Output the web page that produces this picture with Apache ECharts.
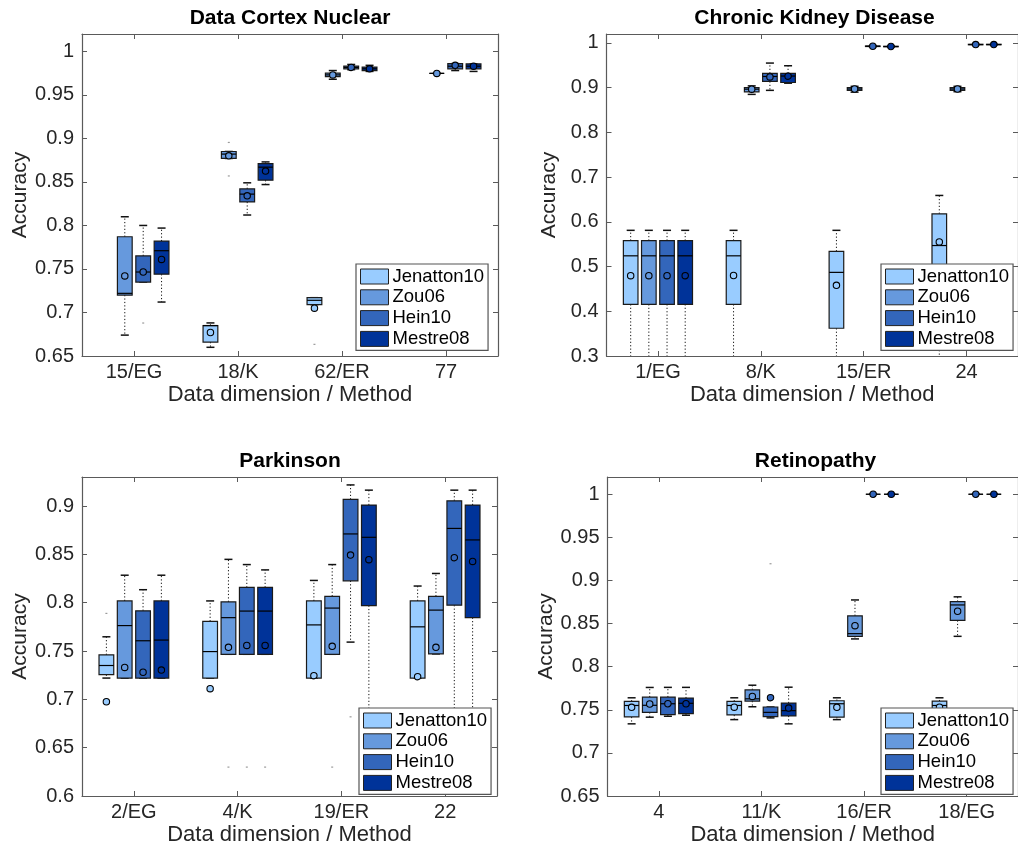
<!DOCTYPE html>
<html>
<head>
<meta charset="utf-8">
<script src="https://cdn.jsdelivr.net/npm/echarts@6/dist/echarts.min.js"></script>
<style>
html,body{margin:0;padding:0;background:#fff;}
#chart{width:1018px;height:847px;}
</style>
</head>
<body>
<div id="chart"></div>
<script>
// ---------- DATA ----------
// each box: [whiskerLow, q1, median, q3, whiskerHigh, mean]; null = no box
const methods = ['Jenatton10', 'Zou06', 'Hein10', 'Mestre08'];
const methodColors = ['#99ccff', '#6699dd', '#3366bb', '#003399'];

const cortexCats = ['15/EG', '18/K', '62/ER', '77'];
const cortexJenatton10 = [null, [0.660, 0.666, 0.685, 0.685, 0.688, 0.677], [0.709, 0.709, 0.714, 0.717, 0.717, 0.705], null];
const cortexZou06 = [[0.674, 0.720, 0.722, 0.787, 0.810, 0.742], [0.877, 0.877, 0.882, 0.885, 0.885, 0.880], [0.968, 0.971, 0.973, 0.975, 0.978, 0.973], [0.9747, 0.9747, 0.9747, 0.9747, 0.9747, 0.9747]];
const cortexHein10 = [[0.735, 0.735, 0.7465, 0.765, 0.800, 0.7465], [0.812, 0.827, 0.836, 0.842, 0.849, 0.834], [0.979, 0.980, 0.9816, 0.983, 0.985, 0.9816], [0.978, 0.980, 0.983, 0.986, 0.986, 0.984]];
const cortexMestre08 = [[0.712, 0.744, 0.771, 0.782, 0.797, 0.761], [0.847, 0.852, 0.867, 0.871, 0.873, 0.8625], [0.977, 0.978, 0.980, 0.982, 0.984, 0.980], [0.977, 0.980, 0.983, 0.9856, 0.9856, 0.983]];
// outliers: [categoryIndex, methodIndex, value]
const cortexOutliers = [[0, 2, 0.688], [1, 1, 0.8955], [1, 1, 0.857], [2, 0, 0.6635], [3, 0, 0.659]];

const kidneyCats = ['1/EG', '8/K', '15/ER', '24'];
const kidneyJenatton10 = [[0.29, 0.4155, 0.524, 0.558, 0.581, 0.4795], [0.29, 0.4155, 0.524, 0.558, 0.581, 0.48], [0.29, 0.362, 0.487, 0.534, 0.581, 0.458], [0.29, 0.45, 0.547, 0.618, 0.659, 0.555]];
const kidneyZou06 = [[0.29, 0.4155, 0.524, 0.558, 0.581, 0.4795], [0.885, 0.8905, 0.8966, 0.900, 0.904, 0.8966], [0.890, 0.894, 0.897, 0.900, 0.903, 0.897], [0.891, 0.894, 0.897, 0.900, 0.903, 0.897]];
const kidneyHein10 = [[0.29, 0.4155, 0.524, 0.558, 0.581, 0.4795], [0.894, 0.914, 0.925, 0.932, 0.955, 0.924], [0.9915, 0.992, 0.9926, 0.9932, 0.994, 0.9926], [0.996, 0.996, 0.9964, 0.997, 0.997, 0.9964]];
const kidneyMestre08 = [[0.29, 0.4155, 0.524, 0.558, 0.581, 0.4795], [0.910, 0.9115, 0.926, 0.932, 0.949, 0.9256], [0.991, 0.9915, 0.992, 0.9925, 0.993, 0.992], [0.996, 0.996, 0.9964, 0.997, 0.997, 0.9964]];
const kidneyOutliers = [];

const parkCats = ['2/EG', '4/K', '19/ER', '22'];
const parkJenatton10 = [[0.722, 0.7255, 0.735, 0.746, 0.7647, 0.6975], [0.722, 0.722, 0.7494, 0.7807, 0.8018, 0.711], [0.722, 0.722, 0.777, 0.8018, 0.823, 0.7245], [0.722, 0.722, 0.775, 0.8018, 0.8172, 0.7234]];
const parkZou06 = [[0.722, 0.722, 0.7763, 0.8018, 0.8284, 0.733], [0.7466, 0.7466, 0.7845, 0.8008, 0.8448, 0.7538], [0.7466, 0.7466, 0.7944, 0.8066, 0.8394, 0.7548], [0.747, 0.747, 0.7923, 0.8066, 0.8302, 0.7538]];
const parkHein10 = [[0.722, 0.722, 0.7606, 0.7916, 0.8134, 0.728], [0.7466, 0.7466, 0.7913, 0.8158, 0.8394, 0.7558], [0.7592, 0.8226, 0.8711, 0.9068, 0.9218, 0.8492], [0.63, 0.7974, 0.8768, 0.9054, 0.9164, 0.8465]];
const parkMestre08 = [[0.722, 0.722, 0.7613, 0.8018, 0.8284, 0.7303], [0.7466, 0.7466, 0.7913, 0.8158, 0.8339, 0.7558], [0.63, 0.797, 0.8676, 0.901, 0.9164, 0.8445], [0.63, 0.7845, 0.8649, 0.901, 0.9164, 0.8427]];
const parkOutliers = [[0, 0, 0.789], [1, 1, 0.63], [1, 2, 0.63], [1, 3, 0.63], [2, 1, 0.63], [2, 2, 0.682]];

const retinaCats = ['4', '11/K', '16/ER', '18/EG'];
const retinaJenatton10 = [[0.7337, 0.7417, 0.755, 0.7598, 0.7639, 0.7529], [0.7386, 0.744, 0.755, 0.7598, 0.7639, 0.753], [0.7386, 0.7414, 0.757, 0.7605, 0.7639, 0.7529], [0.7386, 0.744, 0.755, 0.760, 0.7639, 0.753]];
const retinaZou06 = [[0.7414, 0.747, 0.7552, 0.7647, 0.7759, 0.7567], [0.7535, 0.7601, 0.7627, 0.7731, 0.7785, 0.7655], [0.8322, 0.8352, 0.8383, 0.859, 0.8774, 0.8475], [0.8352, 0.8536, 0.8716, 0.8754, 0.881, 0.8643]];
const retinaHein10 = [[0.7425, 0.7444, 0.757, 0.7647, 0.776, 0.757], [0.7406, 0.742, 0.747, 0.7532, 0.7532, 0.764], [1, 1, 1, 1, 1, 1], [1, 1, 1, 1, 1, 1]];
const retinaMestre08 = [[0.7437, 0.7455, 0.7575, 0.7635, 0.776, 0.757], [0.7337, 0.7429, 0.749, 0.7578, 0.7762, 0.752], [1, 1, 1, 1, 1, 1], [1, 1, 1, 1, 1, 1]];
const retinaOutliers = [[1, 2, 0.9195]];

// ---------- LAYOUT ----------
const FONT = '"Liberation Sans", Arial, Helvetica, sans-serif';
const TXT = '#262626';
const AX = '#5a5a5a';

const panels = [
  { title: 'Data Cortex Nuclear', cats: cortexCats, boxes: [cortexJenatton10, cortexZou06, cortexHein10, cortexMestre08], outliers: cortexOutliers,
    yMin: 0.65, yMax: 1.02, interval: 0.05, grid: { left: 82, top: 34, width: 416, height: 322 }, legendPos: { left: 356, top: 264 } },
  { title: 'Chronic Kidney Disease', cats: kidneyCats, boxes: [kidneyJenatton10, kidneyZou06, kidneyHein10, kidneyMestre08], outliers: kidneyOutliers,
    yMin: 0.3, yMax: 1.02, interval: 0.1, grid: { left: 606.5, top: 34, width: 416, height: 322 }, legendPos: { left: 881, top: 264 } },
  { title: 'Parkinson', cats: parkCats, boxes: [parkJenatton10, parkZou06, parkHein10, parkMestre08], outliers: parkOutliers,
    yMin: 0.6, yMax: 0.93, interval: 0.05, grid: { left: 82, top: 477, width: 415, height: 321 }, legendPos: { left: 359, top: 708 } },
  { title: 'Retinopathy', cats: retinaCats, boxes: [retinaJenatton10, retinaZou06, retinaHein10, retinaMestre08], outliers: retinaOutliers,
    yMin: 0.65, yMax: 1.02, interval: 0.05, grid: { left: 607.5, top: 477, width: 416, height: 321 }, legendPos: { left: 881, top: 708 } }
];

const OFFS = [-0.265, -0.0885, 0.0885, 0.265];
const BOXW = 0.142;

function boxRender(methodIdx) {
  return function (params, api) {
    const cat = api.value(0);
    const band = api.size([1, 0])[0];
    const cx = api.coord([cat, 0])[0] + OFFS[methodIdx] * band;
    const w = BOXW * band;
    const y = k => api.coord([cat, api.value(k)])[1];
    const lo = y(1), q1 = y(2), med = y(3), q3 = y(4), hi = y(5), mean = y(6);
    const capW = 4;
    const col = methodColors[methodIdx];
    const dash = { stroke: '#111', lineWidth: 1, lineDash: [1.2, 2.2] };
    const children = [];
    if (hi < q3 - 0.5) children.push({ type: 'line', shape: { x1: cx, y1: q3, x2: cx, y2: hi }, style: dash });
    if (lo > q1 + 0.5) children.push({ type: 'line', shape: { x1: cx, y1: q1, x2: cx, y2: lo }, style: dash });
    children.push({ type: 'line', shape: { x1: cx - capW, y1: hi, x2: cx + capW, y2: hi }, style: { stroke: '#111', lineWidth: 1.5 } });
    children.push({ type: 'line', shape: { x1: cx - capW, y1: lo, x2: cx + capW, y2: lo }, style: { stroke: '#111', lineWidth: 1.5 } });
    children.push({ type: 'rect', shape: { x: cx - w / 2, y: q3, width: w, height: Math.max(q1 - q3, 0) },
      style: { fill: col, stroke: '#1a1a1a', lineWidth: 1.2 } });
    children.push({ type: 'line', shape: { x1: cx - w / 2, y1: med, x2: cx + w / 2, y2: med }, style: { stroke: '#000', lineWidth: 1.2 } });
    children.push({ type: 'circle', shape: { cx: cx, cy: mean, r: 3.2 }, style: { fill: col, stroke: '#000', lineWidth: 1.1 } });
    return { type: 'group', children: children };
  };
}

function outlierRender(params, api) {
  const cat = api.value(0);
  const m = api.value(1);
  const band = api.size([1, 0])[0];
  const p = api.coord([cat, api.value(2)]);
  return { type: 'rect', shape: { x: p[0] + OFFS[m] * band - 1, y: p[1] - 0.5, width: 2, height: 1.2 }, style: { fill: '#9a9a9a' } };
}

const grids = [], xAxes = [], yAxes = [], series = [], legends = [], graphics = [];

panels.forEach((p, gi) => {
  grids.push(Object.assign({ containLabel: false }, p.grid));
  const tickStyle = { show: true, inside: true, length: 5, lineStyle: { color: AX, width: 1 } };
  xAxes.push({
    type: 'category', gridIndex: gi, data: p.cats, position: 'bottom',
    axisLine: { show: true, lineStyle: { color: AX, width: 1.2 } },
    axisTick: Object.assign({ alignWithLabel: true }, tickStyle),
    axisLabel: { color: TXT, fontSize: 20, fontFamily: FONT, margin: 6 },
    name: 'Data dimension / Method', nameLocation: 'middle', nameGap: 28,
    nameTextStyle: { color: TXT, fontSize: 22, fontFamily: FONT },
    splitLine: { show: false }
  });
  xAxes.push({
    type: 'category', gridIndex: gi, data: p.cats, position: 'top',
    axisLine: { show: true, lineStyle: { color: AX, width: 1.2 } },
    axisTick: Object.assign({ alignWithLabel: true }, tickStyle),
    axisLabel: { show: false }, splitLine: { show: false }
  });
  const fmt = v => {
    const r = v / p.interval;
    return Math.abs(r - Math.round(r)) < 1e-6 ? String(+v.toFixed(2)) : '';
  };
  yAxes.push({
    type: 'value', gridIndex: gi, min: p.yMin, max: p.yMax, interval: p.interval, position: 'left',
    axisLine: { show: true, lineStyle: { color: AX, width: 1.2 } },
    axisTick: tickStyle,
    axisLabel: { color: TXT, fontSize: 20, fontFamily: FONT, margin: 8, formatter: fmt, showMaxLabel: false },
    splitLine: { show: false },
    name: 'Accuracy', nameLocation: 'middle', nameGap: 47,
    nameTextStyle: { color: TXT, fontSize: 21, fontFamily: FONT }
  });
  yAxes.push({
    type: 'value', gridIndex: gi, min: p.yMin, max: p.yMax, interval: p.interval, position: 'right',
    axisLine: { show: true, lineStyle: { color: AX, width: 1.2 } },
    axisTick: tickStyle, axisLabel: { show: false }, splitLine: { show: false }
  });
  p.boxes.forEach((arr, mi) => {
    const data = [];
    arr.forEach((b, ci) => { if (b) data.push([ci].concat(b)); });
    series.push({
      type: 'custom', name: methods[mi], xAxisIndex: gi * 2, yAxisIndex: gi * 2,
      itemStyle: { color: methodColors[mi] },
      renderItem: boxRender(mi), encode: { x: 0, y: [1, 2, 3, 4, 5, 6] },
      data: data, clip: true, z: 2 + mi, silent: true
    });
  });
  if (p.outliers.length) {
    series.push({
      type: 'custom', name: 'outliers', xAxisIndex: gi * 2, yAxisIndex: gi * 2,
      renderItem: outlierRender, encode: { x: 0, y: 2 }, data: p.outliers, clip: true, z: 1, silent: true
    });
  }
  legends.push({
    data: methods.slice(), orient: 'vertical', left: p.legendPos.left, top: p.legendPos.top,
    itemWidth: 28, itemHeight: 15, itemGap: 1.8, selectedMode: false,
    padding: [3, 4, 2, 4], backgroundColor: '#fff', borderColor: '#555', borderWidth: 1.2, borderRadius: 0,
    icon: 'rect', itemStyle: { borderColor: '#222', borderWidth: 1 },
    textStyle: { color: '#000', fontSize: 18.5, fontFamily: FONT, padding: [0, 0, 0, -1] },
    z: 10
  });
  graphics.push({
    type: 'text', x: p.grid.left + 208, y: p.grid.top - 16,
    style: { text: p.title, font: 'bold 21px ' + FONT, fill: '#000', align: 'center', verticalAlign: 'middle' }
  });
});

const chart = echarts.init(document.getElementById('chart'), null, { renderer: 'canvas' });
chart.setOption({
  backgroundColor: '#fff',
  animation: false,
  grid: grids, xAxis: xAxes, yAxis: yAxes, series: series, legend: legends, graphic: graphics
});
</script>
</body>
</html>
